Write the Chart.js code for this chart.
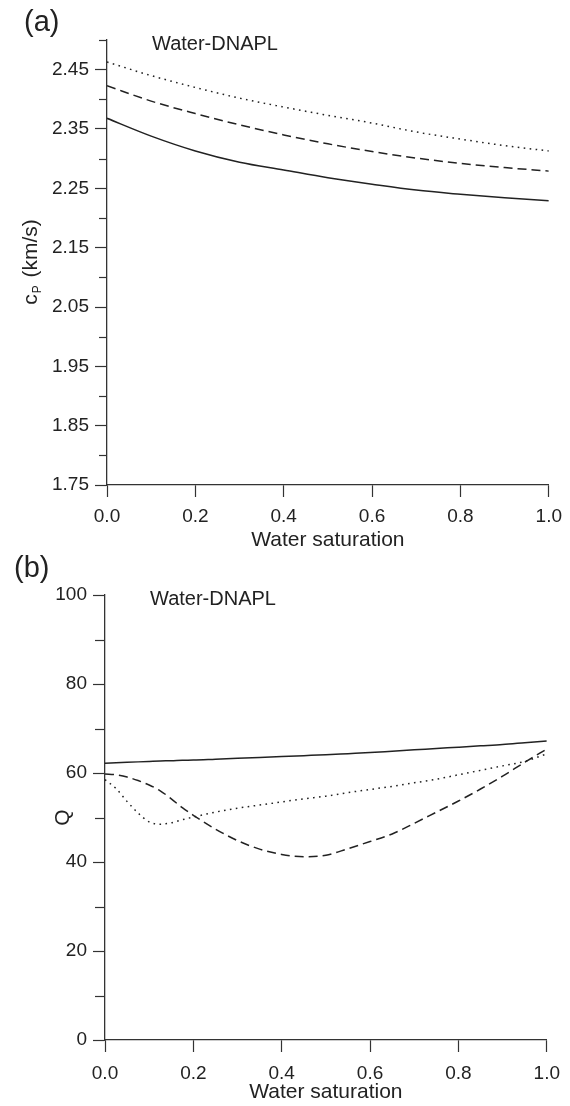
<!DOCTYPE html>
<html>
<head>
<meta charset="utf-8">
<script src="https://cdn.jsdelivr.net/npm/chart.js@4.4.0/dist/chart.umd.min.js"></script>
<style>
body{margin:0;background:#fff;}
#wrap{position:relative;width:570px;height:1106px;font-family:"Liberation Sans",Arial,sans-serif;color:#222;}
canvas{position:absolute;left:0;}
.panel{position:absolute;font-size:29px;line-height:29px;}
.note{position:absolute;font-size:20px;line-height:20px;}
</style>
</head>
<body>
<div id="wrap">
  <canvas id="chart-a" width="570" height="553" style="top:0"></canvas>
  <canvas id="chart-b" width="570" height="553" style="top:553px"></canvas>
  <div class="panel" style="left:24px;top:7px">(a)</div>
  <div class="note" style="left:152px;top:33px">Water-DNAPL</div>
  <div class="panel" style="left:14px;top:553px">(b)</div>
  <div class="note" style="left:150px;top:588px">Water-DNAPL</div>
</div>
<script>
// 横軸 (含水飽和度)
const swA = [0, 0.1, 0.2, 0.3, 0.4, 0.5, 0.6, 0.7, 0.8, 0.9, 1.0];
const swB = [0, 0.025, 0.05, 0.075, 0.1, 0.125, 0.15, 0.175, 0.2, 0.25, 0.3, 0.35, 0.4,
             0.45, 0.5, 0.55, 0.6, 0.65, 0.7, 0.75, 0.8, 0.85, 0.9, 0.95, 1.0];

// (a) P波速度 km/s
const cpSolid  = [2.368, 2.338, 2.313, 2.294, 2.281, 2.268, 2.257, 2.247, 2.240, 2.234, 2.229];
const cpDashed = [2.423, 2.397, 2.376, 2.357, 2.340, 2.325, 2.312, 2.301, 2.292, 2.285, 2.279];
const cpDotted = [2.463, 2.440, 2.420, 2.402, 2.387, 2.373, 2.360, 2.345, 2.333, 2.322, 2.313];

// (b) Q
const qSolid  = [62.2, 62.3, 62.4, 62.5, 62.6, 62.7, 62.75, 62.85, 62.9, 63.1, 63.3, 63.5, 63.7,
                 63.9, 64.1, 64.35, 64.6, 64.9, 65.2, 65.5, 65.8, 66.1, 66.4, 66.8, 67.2];
const qDashed = [59.8, 59.6, 59.1, 58.3, 57.3, 56.0, 54.2, 52.2, 50.5, 47.4, 44.8, 42.9, 41.7,
                 41.2, 41.5, 43.0, 44.6, 46.3, 48.7, 51.2, 53.7, 56.4, 59.3, 62.4, 65.4];
const qDotted = [58.5, 56.5, 53.6, 51.0, 49.0, 48.5, 48.8, 49.5, 50.1, 51.2, 52.1, 52.8, 53.5,
                 54.2, 54.8, 55.6, 56.3, 57.0, 57.8, 58.6, 59.6, 60.6, 61.6, 62.6, 64.3];

// 目盛り
const xTicks = [0, 0.2, 0.4, 0.6, 0.8, 1.0];
const xTickLabels = ['0.0', '0.2', '0.4', '0.6', '0.8', '1.0'];
const cpTicks = [1.75, 1.80, 1.85, 1.90, 1.95, 2.00, 2.05, 2.10, 2.15, 2.20, 2.25, 2.30, 2.35, 2.40, 2.45, 2.50];
const cpTickLabels = ['1.75', '', '1.85', '', '1.95', '', '2.05', '', '2.15', '', '2.25', '', '2.35', '', '2.45', ''];
const qTicks = [0, 10, 20, 30, 40, 50, 60, 70, 80, 90, 100];
const qTickLabels = ['0', '', '20', '', '40', '', '60', '', '80', '', '100'];

const ink = '#222';
const axisInk = '#333';
const font = '"Liberation Sans", Arial, sans-serif';

const pts = (xs, ys) => xs.map((x, i) => ({x: x, y: ys[i]}));

const line = (data, dash) => ({
  data: data,
  borderColor: ink,
  borderWidth: 1.5,
  borderDash: dash,
  pointRadius: 0,
  fill: false,
  cubicInterpolationMode: 'monotone',
});

// 短い副目盛り
const minorTicks = {
  id: 'minorTicks',
  afterDraw(chart, args, opts) {
    const s = chart.scales.y;
    const ctx = chart.ctx;
    ctx.save();
    ctx.strokeStyle = axisInk;
    ctx.lineWidth = 1.2;
    s.ticks.forEach((t, i) => {
      if (opts.labels[i] !== '') return;
      const py = Math.round(s.getPixelForValue(t.value)) + 0.5;
      ctx.beginPath();
      ctx.moveTo(s.right - opts.len, py);
      ctx.lineTo(s.right, py);
      ctx.stroke();
    });
    ctx.restore();
  }
};

// c_P (km/s) の縦タイトル
const cpTitle = {
  id: 'cpTitle',
  afterDraw(chart) {
    if (chart.canvas.id !== 'chart-a') return;
    const ctx = chart.ctx;
    const a = chart.chartArea;
    const big = '21px ' + font;
    const small = '12px ' + font;
    ctx.save();
    ctx.fillStyle = ink;
    ctx.textBaseline = 'alphabetic';
    ctx.font = big;
    const w1 = ctx.measureText('c').width;
    const w3 = ctx.measureText(' (km/s)').width;
    ctx.font = small;
    const w2 = ctx.measureText('P').width + 2;
    const total = w1 + w2 + w3;
    ctx.translate(37, (a.top + a.bottom) / 2);
    ctx.rotate(-Math.PI / 2);
    let x = -total / 2;
    ctx.font = big;
    ctx.fillText('c', x, 0);
    x += w1 + 1;
    ctx.font = small;
    ctx.fillText('P', x, 4);
    x += w2;
    ctx.font = big;
    ctx.fillText(' (km/s)', x, 0);
    ctx.restore();
  }
};

function scales(cfg) {
  return {
    x: {
      type: 'linear',
      min: 0,
      max: 1,
      afterBuildTicks: s => { s.ticks = xTicks.map(v => ({value: v})); },
      afterFit: s => { s.height = cfg.xh; },
      ticks: {
        autoSkip: false,
        maxRotation: 0,
        padding: cfg.xpad,
        color: ink,
        font: {family: font, size: 19},
        callback: (v, i) => xTickLabels[i],
      },
      grid: {
        drawOnChartArea: false,
        drawTicks: true,
        tickLength: 12,
        tickWidth: 1.2,
        tickColor: axisInk,
      },
      border: {display: true, color: axisInk, width: 1.3},
      title: {
        display: true,
        text: 'Water saturation',
        color: ink,
        font: {family: font, size: 21},
        padding: {top: 0, bottom: 0},
      },
    },
    y: {
      type: 'linear',
      min: cfg.min,
      max: cfg.max,
      afterBuildTicks: s => { s.ticks = cfg.ticks.map(v => ({value: v})); },
      afterFit: s => { s.width = cfg.yw; },
      ticks: {
        autoSkip: false,
        padding: 6,
        color: ink,
        font: {family: font, size: 19},
        callback: (v, i) => cfg.labels[i],
      },
      grid: {
        drawOnChartArea: false,
        drawTicks: true,
        tickLength: 12,
        tickWidth: 1.2,
        tickColor: c => cfg.labels[c.index] === '' ? 'rgba(0,0,0,0)' : axisInk,
      },
      border: {display: true, color: axisInk, width: 1.3},
      title: cfg.ytitle,
    },
  };
}

// (a) 速度
new Chart(document.getElementById('chart-a'), {
  type: 'line',
  data: {
    datasets: [
      line(pts(swA, cpSolid), []),
      line(pts(swA, cpDashed), [9, 5]),
      line(pts(swA, cpDotted), [1.6, 4.4]),
    ]
  },
  options: {
    responsive: false,
    animation: false,
    layout: {padding: {left: 0, top: 40, right: 17, bottom: 0}},
    scales: scales({
      min: 1.75, max: 2.5, ticks: cpTicks, labels: cpTickLabels,
      yw: 107, xh: 68, xpad: 8,
      ytitle: {display: false},
    }),
    plugins: {
      legend: {display: false},
      tooltip: {enabled: false},
      minorTicks: {labels: cpTickLabels, len: 8},
    },
  },
  plugins: [minorTicks, cpTitle],
});

// (b) Q
new Chart(document.getElementById('chart-b'), {
  type: 'line',
  data: {
    datasets: [
      line(pts(swB, qSolid), []),
      line(pts(swB, qDashed), [9, 5]),
      line(pts(swB, qDotted), [1.6, 4.4]),
    ]
  },
  options: {
    responsive: false,
    animation: false,
    layout: {padding: {left: 0, top: 42, right: 19, bottom: 1}},
    scales: scales({
      min: 0, max: 100, ticks: qTicks, labels: qTickLabels,
      yw: 105, xh: 65, xpad: 10,
      ytitle: {
        display: true,
        text: 'Q',
        color: ink,
        font: {family: font, size: 21},
        padding: {top: 51, bottom: 0},
      },
    }),
    plugins: {
      legend: {display: false},
      tooltip: {enabled: false},
      minorTicks: {labels: qTickLabels, len: 10},
    },
  },
  plugins: [minorTicks],
});
</script>
</body>
</html>
